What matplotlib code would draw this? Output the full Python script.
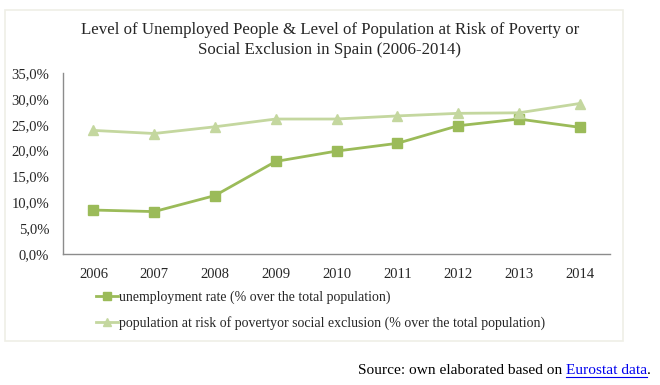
import matplotlib
matplotlib.use("Agg")
import matplotlib.pyplot as plt
from matplotlib.patches import Rectangle
from matplotlib.ticker import FuncFormatter

years = ["2006", "2007", "2008", "2009", "2010", "2011", "2012", "2013", "2014"]
unemployment = [8.5, 8.2, 11.3, 17.9, 19.9, 21.4, 24.8, 26.1, 24.5]
arope = [23.9, 23.3, 24.6, 26.1, 26.1, 26.7, 27.2, 27.3, 29.1]
label_unemp = "unemployment rate (% over the total population)"
label_arope = "population at risk of povertyor social exclusion (% over the total population)"
title = "Level of Unemployed People & Level of Population at Risk of Poverty or\nSocial Exclusion in Spain (2006-2014)"

plt.rcParams['font.family'] = ['Liberation Serif', 'DejaVu Serif']

W, H = 660, 385
fig = plt.figure(figsize=(W / 100, H / 100), dpi=100)
fig.patch.set_facecolor("white")

# chart frame
fig.patches.append(Rectangle((5 / W, 1 - 341 / H), (623 - 5) / W, (341 - 10) / H,
                             transform=fig.transFigure, fill=False,
                             edgecolor="#EFEFE6", linewidth=1.2))

ax = fig.add_axes([63 / W, 1 - 254 / H, (610 - 63) / W, (254 - 73) / H])
x = list(range(len(years)))
l1, = ax.plot(x, unemployment, color="#9BBB59", linewidth=2, marker="s",
              markersize=7, label=label_unemp)
l2, = ax.plot(x, arope, color="#C4D79F", linewidth=2, marker="^",
              markersize=7, label=label_arope)

ax.set_xlim(-0.5, len(years) - 0.5)
ax.set_ylim(0, 35)
ax.set_yticks([0, 5, 10, 15, 20, 25, 30, 35])
ax.yaxis.set_major_formatter(FuncFormatter(lambda v, p: f"{v:.1f}%".replace(".", ",")))
ax.set_xticks(x)
ax.set_xticklabels(years)
for s in ["top", "right"]:
    ax.spines[s].set_visible(False)
for s in ["left", "bottom"]:
    ax.spines[s].set_color("#8C8C8C")
    ax.spines[s].set_linewidth(1)
ax.tick_params(length=0, labelsize=10.5, colors="#262626")
ax.tick_params(axis="x", pad=10)
ax.tick_params(axis="y", pad=10)

fig.text(0.5, 1 - 40 / H, title, ha="center", va="center", fontsize=12.2,
         color="#262626", linespacing=1.4)

fig.legend(handles=[l1, l2], loc="center left",
           bbox_to_anchor=(83 / W, 1 - 310 / H), frameon=False,
           fontsize=10, labelspacing=0.85, handlelength=1.6, handletextpad=0.1,
           markerscale=0.75, labelcolor="#262626")

# source line
fig.canvas.draw()
r = fig.canvas.get_renderer()
src_parts = ["Source: own elaborated based on ", "Eurostat data", "."]
fs = 11.1
widths = []
for s in src_parts:
    tt = fig.text(0, 0, s, fontsize=fs)
    widths.append(tt.get_window_extent(r).width)
    tt.remove()
xr = 651
xs = xr - sum(widths)
ys = 1 - 370 / H
cur = xs
for s, w, c in zip(src_parts, widths, ["black", "#0000EE", "black"]):
    fig.text(cur / W, ys, s, fontsize=fs, color=c, va="center")
    if s == "Eurostat data":
        fig.add_artist(plt.Line2D([cur / W, (cur + w) / W], [ys - 7 / H, ys - 7 / H],
                                  transform=fig.transFigure, color=c, linewidth=0.8))
    cur += w

fig.savefig("out.png", dpi=100)
